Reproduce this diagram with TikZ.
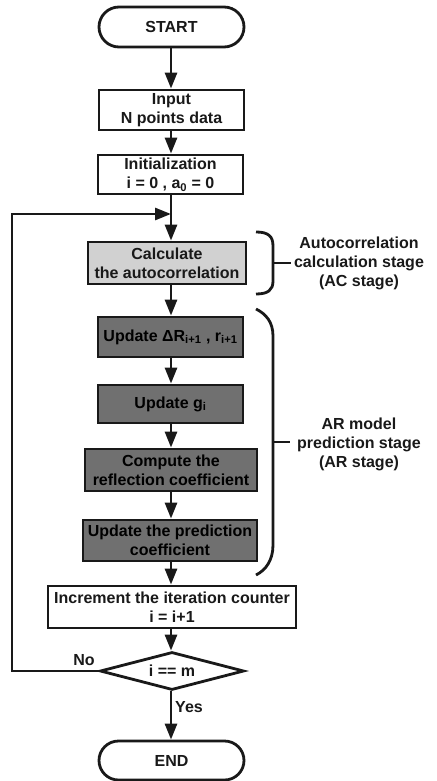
\documentclass[tikz,border=0pt]{standalone}
\usepackage{fontspec}
\setmainfont{Liberation Sans}
\usetikzlibrary{shapes.misc,shapes.geometric,arrows.meta}
\colorlet{lightbox}{black!18}
\colorlet{darkbox}{black!56}
\colorlet{ink}{black!90}
\begin{document}
\begin{tikzpicture}[x=1pt,y=-1pt,
  every node/.style={font=\fontsize{16}{19}\selectfont\bfseries, text=ink, inner sep=0pt},
  box/.style={draw=ink, line width=2.8pt, rectangle, align=center, fill=white},
  lightstep/.style={box, fill=lightbox},
  darkstep/.style={box, fill=darkbox, text=black},
  terminal/.style={draw=ink, line width=2.8pt, rounded rectangle, minimum width=145pt, minimum height=40pt, fill=white},
  decision/.style={draw=ink, line width=2.8pt, diamond, aspect=3.8, minimum width=144pt, minimum height=38pt, inner sep=0pt},
  arr/.style={draw=ink, line width=2.8pt, -{Triangle[length=16pt,width=12pt]}},
  bracket/.style={draw=ink, line width=2.8pt},
  stagetext/.style={align=center}
]
\useasboundingbox (0,0) rectangle (436,781);

\node[terminal] (start) at (171.5,27) {START};
\node[box, minimum width=145pt, minimum height=40pt] (input) at (171.5,110) {Input\\N points data};
\node[box, minimum width=145pt, minimum height=39pt] (init) at (170.5,174.5) {Initialization\\i = 0 , a\textsubscript{0} = 0};
\node[lightstep, minimum width=158pt, minimum height=42pt] (calc) at (167,263) {Calculate\\the autocorrelation};
\node[darkstep, minimum width=145pt, minimum height=40pt] (upd1) at (170.5,337) {Update ΔR\textsubscript{i+1} , r\textsubscript{i+1}};
\node[darkstep, minimum width=145pt, minimum height=38pt] (updg) at (170.5,404) {Update g\textsubscript{i}};
\node[darkstep, minimum width=172pt, minimum height=42pt] (comp) at (171,470) {Compute the\\reflection coefficient};
\node[darkstep, minimum width=174pt, minimum height=41pt] (updp) at (170,540.5) {Update the prediction\\coefficient};
\node[box, minimum width=248pt, minimum height=42pt] (incr) at (172,607) {Increment the iteration counter\\i = i+1};
\node[decision] (dec) at (172,671) {i == m};
\node[terminal, minimum height=39pt] (end) at (171.5,760.5) {END};

\node[stagetext] (aclabel) at (359,263) {Autocorrelation\\calculation stage\\(AC stage)};
\node[stagetext] (arlabel) at (359,444) {AR model\\prediction stage\\(AR stage)};
\node (no) at (84,660) {No};
\node (yes) at (189,707) {Yes};

\coordinate (join) at (171,214);
\coordinate (lt) at (12,214);

\draw[arr] (start.south -| 171,0) -- (input.north -| 171,0);
\draw[arr] (input.south -| 171,0) -- (init.north -| 171,0);
\draw[arr] (init.south -| 171,0) -- (calc.north -| 171,0);
\draw[arr] (calc.south -| 171,0) -- (upd1.north -| 171,0);
\draw[arr] (upd1.south -| 171,0) -- (updg.north -| 171,0);
\draw[arr] (updg.south -| 171,0) -- (comp.north -| 171,0);
\draw[arr] (comp.south -| 171,0) -- (updp.north -| 171,0);
\draw[arr] (updp.south -| 171,0) -- (incr.north -| 171,0);
\draw[arr] (incr.south -| 171,0) -- (dec.north -| 171,0);
\draw[arr] (dec.south -| 171,0) -- (end.north -| 171,0);
\draw[arr] (dec.west) -| (lt) -- (join);

\draw[bracket] (256,232) .. controls (268,232) and (273,236) .. (273,246) -- (273,281) .. controls (273,290) and (268,294) .. (256,294);
\draw[bracket] (273,263) -- (291,263);
\draw[bracket] (256,309) .. controls (266,314) and (273,322) .. (273,336) -- (273,545) .. controls (273,560) and (266,570) .. (256,575);
\draw[bracket] (273,442) -- (290,442);
\end{tikzpicture}
\end{document}
